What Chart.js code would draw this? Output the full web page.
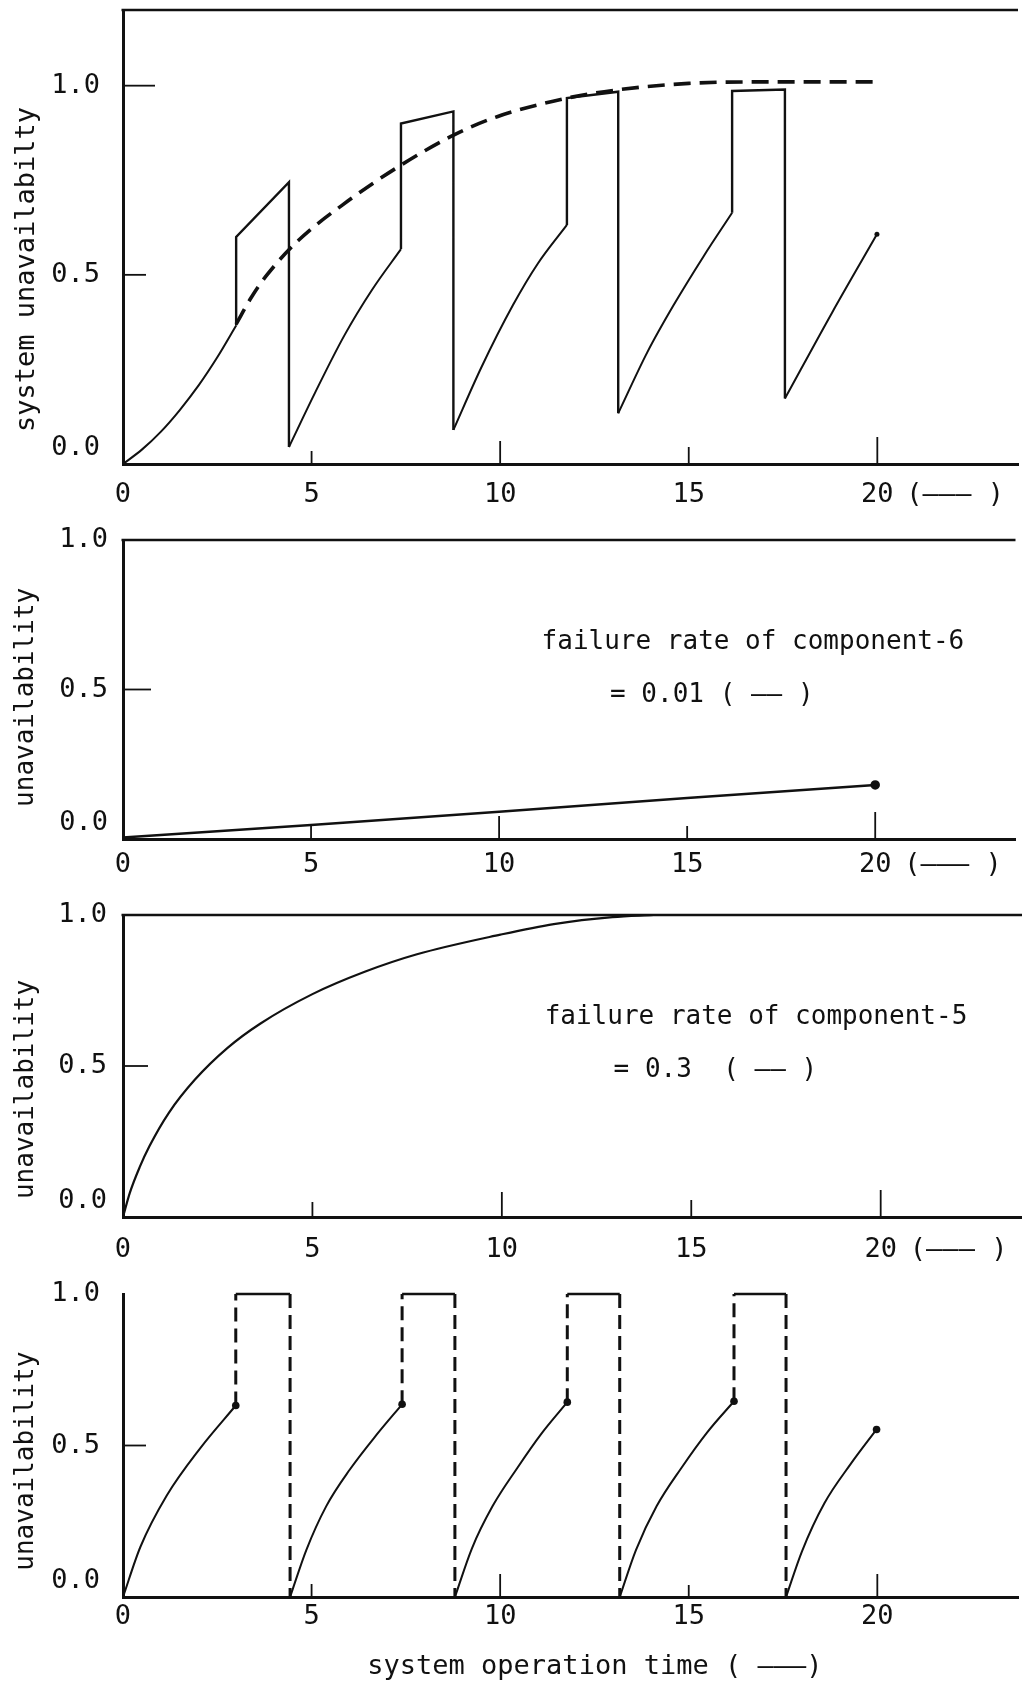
<!DOCTYPE html>
<html>
<head>
<meta charset="utf-8">
<style>
  body { margin: 0; background: #fff; }
  canvas { position: absolute; left: 0; }
</style>
</head>
<body>
<canvas id="c1" width="1022" height="515" style="top:0px"></canvas>
<canvas id="c2" width="1022" height="370" style="top:515px"></canvas>
<canvas id="c3" width="1022" height="385" style="top:885px"></canvas>
<canvas id="c4" width="1022" height="418" style="top:1270px"></canvas>

<script src="https://cdn.jsdelivr.net/npm/chart.js"></script>
<script>
"use strict";

// ---- panel 1: system unavailability (saw-tooth) and its envelope (dashed)
const sysRiseT = [[0, 0.5, 1, 1.5, 2, 2.5, 3], [4.4, 5.1, 5.87, 6.6, 7.37], [8.76, 9.5, 10.34, 11.0, 11.77],
                  [13.13, 13.9, 14.6, 15.4, 16.15], [17.55, 18.8, 19.99]];
const sysRiseU = [[0, 0.038, 0.085, 0.142, 0.207, 0.282, 0.366], [0.045, 0.19, 0.34, 0.46, 0.568], [0.09, 0.255, 0.42, 0.53, 0.632],
                  [0.134, 0.295, 0.42, 0.55, 0.664], [0.173, 0.40, 0.607]];
const sysUpU   = [0.60, 0.90, 0.967, 0.986];     // value right after the upward jump
const sysDropT = [4.4, 8.76, 13.13, 17.55];      // time of the drop
const sysDropU = [0.745, 0.932, 0.984, 0.99];    // value just before the drop
const envT = [3.0, 3.4, 3.78, 4.64, 5.96, 7.37, 8.78, 9.92, 11.77, 13.2, 15.0, 17.0, 20.0];
const envU = [0.37, 0.44, 0.495, 0.59, 0.695, 0.79, 0.87, 0.918, 0.967, 0.99, 1.006, 1.01, 1.01];

// ---- panel 2: component-6, failure rate 0.01
const c6T = [0, 5, 10, 15, 20];
const c6U = [0.005, 0.047, 0.091, 0.137, 0.181];

// ---- panel 3: component-5, failure rate 0.3
const c5T = [0, 0.18, 0.44, 0.70, 1.21, 1.90, 2.76, 3.62, 5.0, 6.38, 7.76, 9.96, 11.37, 12.92, 14.0];
const c5U = [0, 0.08, 0.165, 0.235, 0.345, 0.455, 0.56, 0.64, 0.738, 0.812, 0.87, 0.935, 0.97, 0.993, 1.0];

// ---- panel 4: periodically tested component
const p4RiseT = [[0, 0.46, 1.16, 2.04, 2.99], [4.43, 4.86, 5.39, 6.01, 6.72, 7.40], [8.80, 9.25, 9.80, 10.45, 11.10, 11.78],
                 [13.17, 13.6, 14.15, 14.8, 15.5, 16.2], [17.58, 18.0, 18.6, 19.3, 19.98]];
const p4RiseU = [[0, 0.165, 0.335, 0.49, 0.632], [0, 0.155, 0.30, 0.42, 0.535, 0.636], [0, 0.16, 0.30, 0.425, 0.54, 0.643],
                 [0, 0.155, 0.30, 0.425, 0.545, 0.646], [0, 0.15, 0.31, 0.44, 0.553]];
const p4DropT = [4.43, 8.80, 13.17, 17.58];
const p4TopU  = [1.0, 1.0, 1.0, 1.0];

const X_MAX = 23.73;
const INK = '#111';

Chart.defaults.font.family = '"DejaVu Sans Mono", monospace';
Chart.defaults.color = INK;

const last = a => a[a.length - 1];
const pts = (t, u) => t.map((x, i) => ({x: x, y: u[i]}));

function line(data, width, extra) {
  return Object.assign({
    data: data, showLine: true, borderColor: INK, backgroundColor: INK,
    borderWidth: width, pointRadius: 0, tension: 0, clip: false, spanGaps: false
  }, extra || {});
}

// inner tick marks, top frame line, unit label and notes
const framePlugin = {
  id: 'frame',
  afterDraw(chart, args, o) {
    const ctx = chart.ctx, a = chart.chartArea;
    const xs = chart.scales.x, ys = chart.scales.y;
    ctx.save();
    ctx.strokeStyle = INK;
    if (o.topLine) {
      ctx.lineWidth = 2.5;
      ctx.beginPath(); ctx.moveTo(a.left - 1.5, a.top); ctx.lineTo(a.right, a.top); ctx.stroke();
    }
    ctx.lineWidth = 1.8;
    xs.ticks.forEach((t, i) => {
      const len = (o.xTicks || [])[i] || 0;
      if (!len) return;
      const px = xs.getPixelForValue(t.value);
      ctx.beginPath(); ctx.moveTo(px, a.bottom); ctx.lineTo(px, a.bottom - len); ctx.stroke();
    });
    ys.ticks.forEach((t, i) => {
      const len = (o.yTicks || [])[i] || 0;
      if (!len) return;
      const py = ys.getPixelForValue(t.value);
      ctx.beginPath(); ctx.moveTo(a.left, py); ctx.lineTo(a.left + len, py); ctx.stroke();
    });
    ctx.fillStyle = INK;
    ctx.textBaseline = 'middle';
    ctx.textAlign = 'left';
    if (o.unit) {
      ctx.font = '27px "DejaVu Sans Mono"';
      const items = xs.getLabelItems();
      const it = items[items.length - 1];
      ctx.fillText(o.unit.text, xs.getPixelForValue(o.unit.at), it.options.translation[1] + it.textOffset);
    }
    ctx.font = '26px "DejaVu Sans Mono"';
    (o.notes || []).forEach(n => {
      ctx.fillText(n.text, xs.getPixelForValue(n.x), ys.getPixelForValue(n.y));
    });
    ctx.restore();
  }
};

function panel(id, p) {
  return new Chart(document.getElementById(id), {
    type: 'scatter',
    data: { datasets: p.datasets },
    plugins: [framePlugin],
    options: {
      responsive: false,
      animation: false,
      devicePixelRatio: 1,
      layout: { padding: { top: p.top, left: 0, right: 0, bottom: 0 } },
      plugins: {
        legend: { display: false },
        tooltip: { enabled: false },
        frame: p.frame
      },
      scales: {
        x: {
          type: 'linear', min: 0, max: X_MAX,
          border: { display: true, color: INK, width: 3 },
          grid: { display: false, drawTicks: false },
          ticks: { stepSize: 5, includeBounds: false, autoSkip: false, maxRotation: 0,
                   padding: p.xPad, font: { size: 27 }, callback: v => String(v) },
          title: p.xTitle ? { display: true, text: p.xTitle, font: { size: 27 }, padding: { top: 0, bottom: 5 } }
                          : { display: false },
          afterFit: s => { s.height = p.xHeight; s.paddingLeft = 0; s.paddingRight = 0; }
        },
        y: {
          type: 'linear', min: 0, max: p.yMax,
          border: { display: true, color: INK, width: 3 },
          grid: { display: false, drawTicks: false },
          ticks: { stepSize: 0.5, includeBounds: false, padding: p.yPad, font: { size: 27 },
                   callback: v => v === 0 ? ['0.0', ''] : v.toFixed(1) },
          title: { display: true, text: p.yTitle, font: { size: p.yTitleSize || 26 }, padding: { top: 11, bottom: 0 } },
          afterFit: s => { s.width = 123; s.paddingTop = 0; s.paddingBottom = 0; }
        }
      }
    }
  });
}

// ---- panel 1 datasets
const sysJumps = [];
sysDropT.forEach((td, i) => {
  const te = last(sysRiseT[i]);
  sysJumps.push({x: te, y: last(sysRiseU[i])}, {x: te, y: sysUpU[i]}, {x: td, y: sysDropU[i]},
                {x: td, y: sysRiseU[i + 1][0]}, {x: td, y: null});
});
const p1Sets = sysRiseT.map((t, i) => line(pts(t, sysRiseU[i]), 2, { cubicInterpolationMode: 'monotone' }));
p1Sets.push(line(sysJumps, 2.4));
p1Sets.push(line(pts(envT, envU), 3.6, { borderDash: [17, 9], cubicInterpolationMode: 'monotone' }));
p1Sets.push(line([{x: last(last(sysRiseT)), y: last(last(sysRiseU))}], 0, { showLine: false, pointRadius: 2.5 }));

panel('c1', {
  top: 10, xHeight: 51, xPad: 15, yPad: 23, yMax: 1.2,
  yTitle: 'system unavailabilty    ', yTitleSize: 27,
  datasets: p1Sets,
  frame: { topLine: true, xTicks: [0, 13, 23, 17, 27], yTicks: [0, 23, 32], unit: { at: 20.77, text: '(——— )' } }
});

// ---- panel 2
panel('c2', {
  top: 25, xHeight: 46, xPad: 10, yPad: 15, yMax: 1.0,
  yTitle: 'unavailability ',
  datasets: [line(pts(c6T, c6U), 2.5, { pointRadius: [0, 0, 0, 0, 3.5] })],
  frame: { topLine: true, xTicks: [0, 15, 23, 13, 27], yTicks: [0, 28, 0], unit: { at: 20.77, text: '(——— )' },
           notes: [{ x: 11.13, y: 0.659, text: 'failure rate of component-6' },
                   { x: 12.95, y: 0.482, text: '= 0.01 ( —— )' }] }
});

// ---- panel 3
panel('c3', {
  top: 30, xHeight: 53, xPad: 17, yPad: 16, yMax: 1.0,
  yTitle: 'unavailability   ',
  datasets: [line(pts(c5T, c5U), 2.2, { cubicInterpolationMode: 'monotone' })],
  frame: { topLine: true, xTicks: [0, 15, 25, 17, 27], yTicks: [0, 25, 0], unit: { at: 20.77, text: '(——— )' },
           notes: [{ x: 11.13, y: 0.662, text: 'failure rate of component-5' },
                   { x: 12.95, y: 0.487, text: '= 0.3  ( —— )' }] }
});

// ---- panel 4
const p4Dashed = [], p4Top = [], p4Dots = [];
p4DropT.forEach((td, i) => {
  const te = last(p4RiseT[i]);
  p4Dashed.push({x: te, y: last(p4RiseU[i])}, {x: te, y: p4TopU[i]}, {x: te, y: null},
                {x: td, y: p4TopU[i]}, {x: td, y: p4RiseU[i + 1][0]}, {x: td, y: null});
  p4Top.push({x: te, y: p4TopU[i]}, {x: td, y: p4TopU[i]}, {x: td, y: null});
});
p4RiseT.forEach((t, i) => p4Dots.push({x: last(t), y: last(p4RiseU[i])}));
const p4Sets = p4RiseT.map((t, i) => line(pts(t, p4RiseU[i]), 2, { cubicInterpolationMode: 'monotone' }));
p4Sets.push(line(p4Dashed, 3, { borderDash: [14, 7] }));
p4Sets.push(line(p4Top, 2.6));
p4Sets.push(line(p4Dots, 0, { showLine: false, pointRadius: 3.8 }));

panel('c4', {
  top: 24, xHeight: 91, xPad: 4, yPad: 23, yMax: 1.0,
  yTitle: 'unavailability  ',
  xTitle: '   system operation time ( ———)',
  datasets: p4Sets,
  frame: { topLine: false, xTicks: [0, 13, 23, 12, 23], yTicks: [0, 23, 0] }
});
</script>
</body>
</html>
